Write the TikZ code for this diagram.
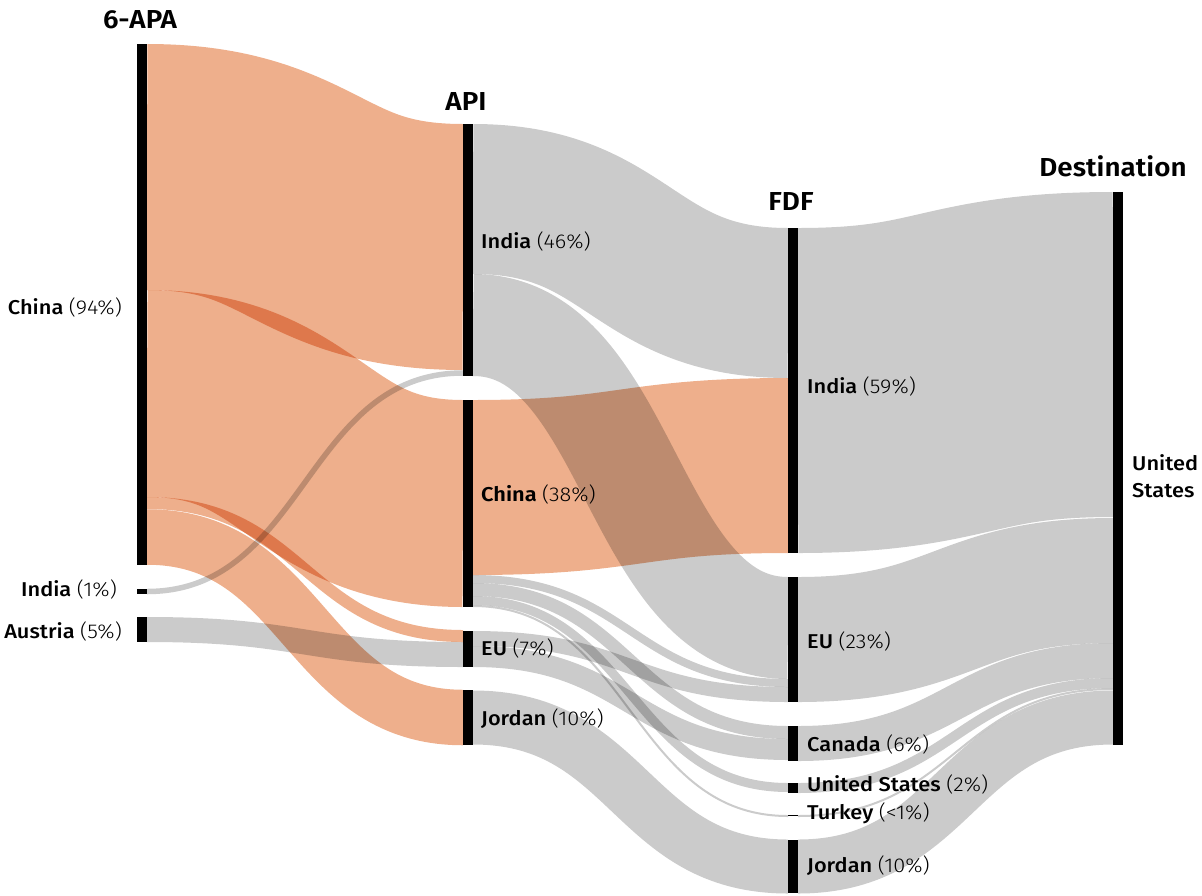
\documentclass[tikz,border=0pt]{standalone}
\usepackage{fontspec}
\setmainfont{Fira Sans}
\newfontfamily\fmed{Fira Sans Medium}[FakeStretch=1.09]
\newfontfamily\flt{Fira Sans Light}[FakeStretch=1.09]
\newfontfamily\fsb{Fira Sans SemiBold}[FakeStretch=1.09]
\newfontfamily\fhead{Fira Sans SemiBold}[FakeStretch=1.07]
\definecolor{skorange}{HTML}{EEAF8C}
\definecolor{skgray}{HTML}{CBCBCB}
\newcommand\sklink[7]{%
  \pgfmathsetmacro\skya{(#3+#4)/2}%
  \pgfmathsetmacro\skyb{(#6+#7)/2}%
  \pgfmathsetmacro\skw{((#4-#3)+(#7-#6))/2}%
  \pgfmathsetmacro\skxm{(#2+#5)/2}%
  \draw[#1, line width=\skw pt, blend mode=multiply] (#2,\skya) .. controls (\skxm,\skya) and (\skxm,\skyb) .. (#5,\skyb);%
}
\begin{document}
\begin{tikzpicture}[x=1pt,y=-1pt,
  lab/.style={inner sep=0pt, font=\fontsize{20}{24}\selectfont},
  head/.style={inner sep=0pt, font=\fhead\fontsize{26}{30}\selectfont},
  bar/.style={fill=black, draw=none}]
\useasboundingbox (0,0) rectangle (1202,895);
% ---------- layer 1: 6-APA -> API
\sklink{skorange}{147}{44}{290}{463}{124}{370}
\sklink{skorange}{147}{290}{497}{463}{400}{607}
\sklink{skorange}{147}{497}{509}{463}{630}{642}
\sklink{skorange}{147}{509}{565}{463}{690}{745}
\sklink{skgray}{147}{589}{594}{463}{370}{376}
\sklink{skgray}{147}{617}{642}{463}{642}{667}
% ---------- layer 2: API -> FDF
\sklink{skgray}{473}{124}{274}{788}{228}{378}
\sklink{skgray}{473}{274}{376}{788}{577}{679}
\sklink{skorange}{473}{400}{575}{788}{378}{553}
\sklink{skgray}{473}{575}{583}{788}{679}{687}
\sklink{skgray}{473}{583}{596}{788}{726}{739}
\sklink{skgray}{473}{596}{605}{788}{783}{792}
\sklink{skgray}{473}{605}{607}{788}{815}{817}
\sklink{skgray}{473}{631}{646}{788}{687}{702}
\sklink{skgray}{473}{646}{667}{788}{739}{760}
\sklink{skgray}{473}{690}{745}{788}{840}{893}
% ---------- layer 3: FDF -> Destination
\sklink{skgray}{798}{228}{553}{1113}{192}{517}
\sklink{skgray}{798}{577}{702}{1113}{518}{643}
\sklink{skgray}{798}{726}{761}{1113}{643}{678}
\sklink{skgray}{798}{783}{793}{1113}{678}{688}
\sklink{skgray}{798}{815}{817}{1113}{688}{690}
\sklink{skgray}{798}{840}{893}{1113}{690}{745}
% ---------- bars
\fill[bar] (137,44) rectangle (147,565);
\fill[bar] (137,589) rectangle (147,594);
\fill[bar] (137,617) rectangle (147,642);
\fill[bar] (463,124) rectangle (473,376);
\fill[bar] (463,400) rectangle (473,607);
\fill[bar] (463,631) rectangle (473,667);
\fill[bar] (463,690) rectangle (473,745);
\fill[bar] (788,228) rectangle (798,553);
\fill[bar] (788,577) rectangle (798,702);
\fill[bar] (788,726) rectangle (798,761);
\fill[bar] (788,783) rectangle (798,793);
\fill[bar] (788,815.3) rectangle (798,816.3);
\fill[bar] (788,840) rectangle (798,893);
\fill[bar] (1113,192) rectangle (1123,745);
% ---------- headers
\node[head] (h1) at (140,20) {6-APA};
\node[head] (h2) at (466,101) {API};
\node[head] (h3) at (791,201) {FDF};
\node[head] (h4) at (1113,166) {Destination};
% ---------- labels
\node[lab, anchor=east] (l1) at (122,307) {\fmed China \flt(94\%)};
\node[lab, anchor=east] (l2) at (117,589) {\fmed India \flt(1\%)};
\node[lab, anchor=east] (l3) at (122,631) {\fmed Austria \flt(5\%)};
\node[lab, anchor=west] (l4) at (481,241) {\fmed India \flt(46\%)};
\node[lab, anchor=west] (l5) at (481,494) {\fsb China \flt(38\%)};
\node[lab, anchor=west] (l6) at (481,648) {\fmed EU \flt(7\%)};
\node[lab, anchor=west] (l7) at (481,719) {\fmed Jordan \flt(10\%)};
\node[lab, anchor=west] (l8) at (807,386) {\fmed India \flt(59\%)};
\node[lab, anchor=west] (l9) at (807,641) {\fmed EU \flt(23\%)};
\node[lab, anchor=west] (l10) at (807,744) {\fmed Canada \flt(6\%)};
\node[lab, anchor=west] (l11) at (807,784) {\fmed United States \flt(2\%)};
\node[lab, anchor=west] (l12) at (807,813) {\fmed Turkey \flt(<1\%)};
\node[lab, anchor=west] (l13) at (807,866) {\fmed Jordan \flt(10\%)};
\node[lab, anchor=west, align=left, font=\fmed\fontsize{20}{27}\selectfont] (l14) at (1132,476) {United\\States};
\end{tikzpicture}
\end{document}
